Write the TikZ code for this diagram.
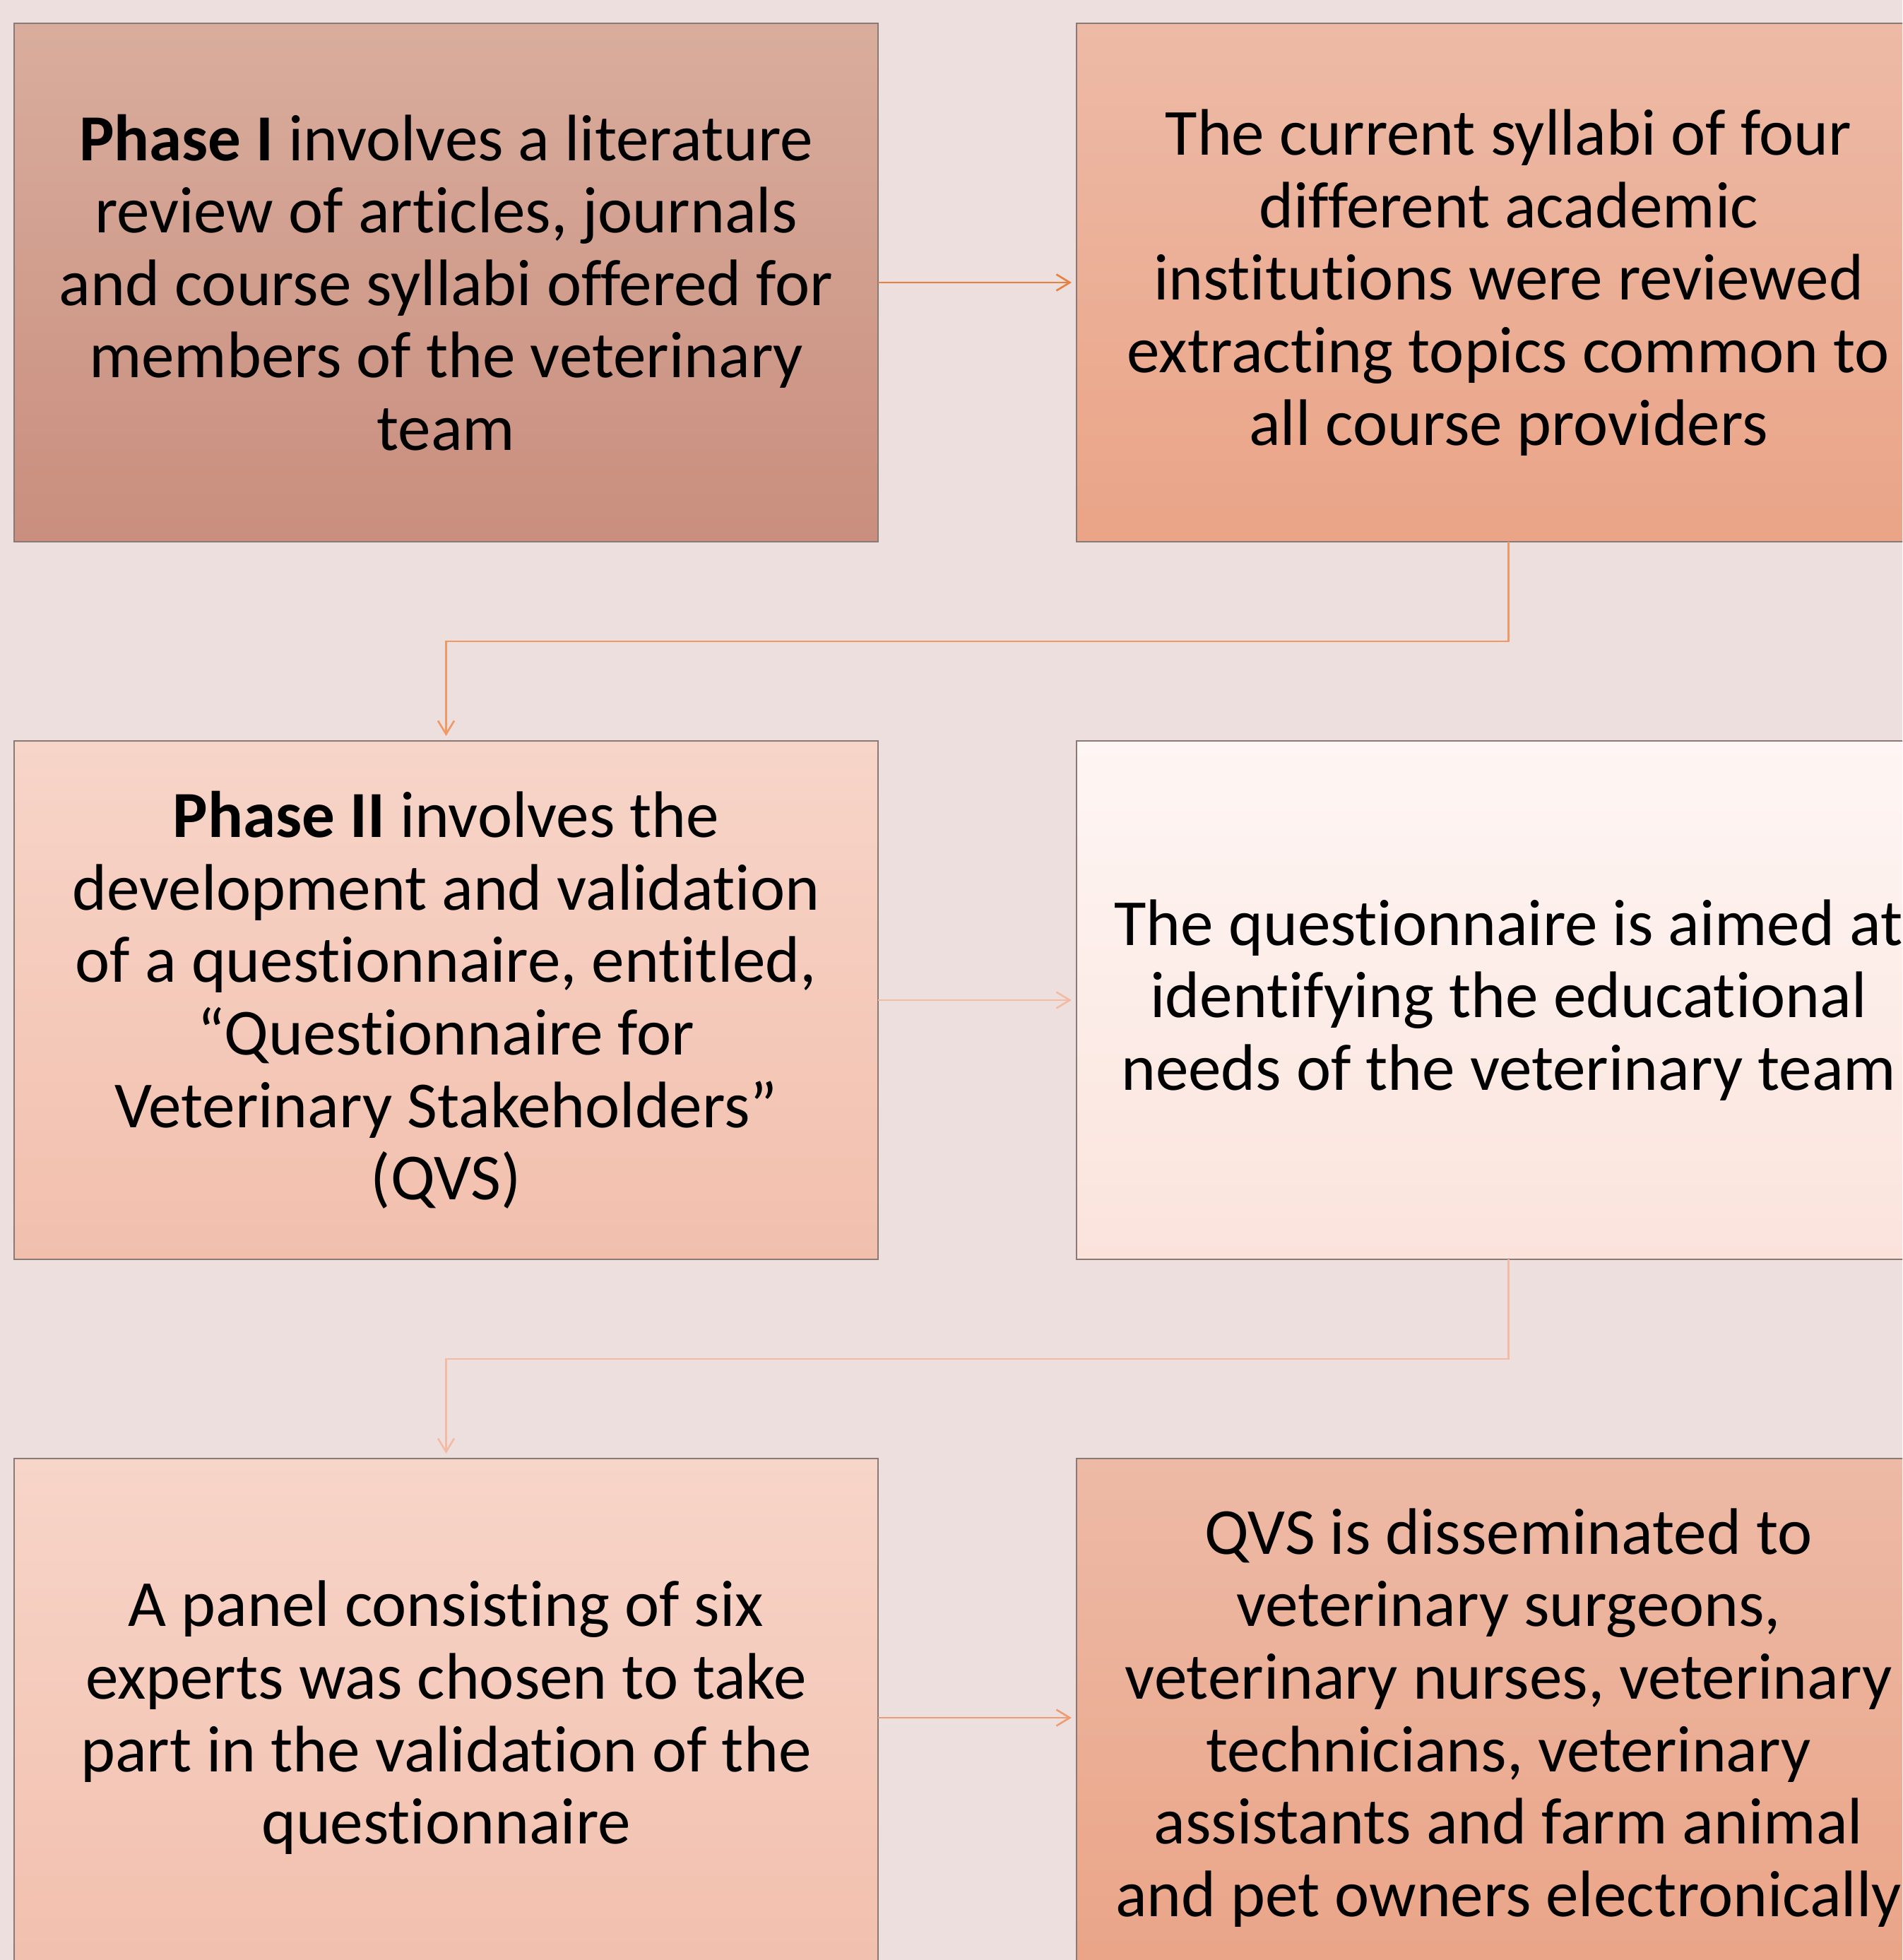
\documentclass[tikz,border=0pt]{standalone}
\usepackage{fontspec}
\setmainfont{Carlito}[Ligatures=NoCommon]
\usetikzlibrary{arrows.meta, positioning}
\definecolor{bgpink}{HTML}{EEDFDF}
\definecolor{edgegray}{HTML}{8A7A76}
\definecolor{roseA}{HTML}{D9AD9D}
\definecolor{roseB}{HTML}{C98E7E}
\definecolor{salmonA}{HTML}{EDBAA6}
\definecolor{salmonB}{HTML}{EAA487}
\definecolor{peachA}{HTML}{F7D5C9}
\definecolor{peachB}{HTML}{F2BFAD}
\definecolor{blushA}{HTML}{FEF6F4}
\definecolor{blushB}{HTML}{FBE3DC}
\definecolor{arrowA}{HTML}{E8803F}
\definecolor{arrowB}{HTML}{EE9966}
\definecolor{arrowC}{HTML}{F4BBA4}
\definecolor{arrowD}{HTML}{EE9C72}

\begin{document}
\begin{tikzpicture}[
  >={Straight Barb[length=1.9mm, width=2.3mm]},
  stepbox/.style={draw=edgegray, line width=0.5pt, outer sep=0pt,
    minimum width=12.23cm, minimum height=7.34cm, align=center,
    font=\fontsize{26.5}{29.2}\selectfont, text=black},
  link/.style={->, line width=0.75pt, shorten >=2pt},
  node distance=2.82cm and 2.81cm,
]

% Background
\useasboundingbox (0,0) rectangle (26.93,-27.75);
\clip (0,0) rectangle (26.93,-27.75);
\fill[bgpink] (0,0) rectangle (26.93,-27.75);

% === Row 1 ===
\node[stepbox, top color=roseA, bottom color=roseB] (phaseone) at (6.315,-4.00)
  {\textbf{Phase I} involves a literature\\ review of articles, journals\\
   and course syllabi offered for\\ members of the veterinary\\ team};
\node[stepbox, top color=salmonA, bottom color=salmonB, right=of phaseone] (syllabi)
  {The current syllabi of four\\ different academic\\ institutions were reviewed\\
   extracting topics common to\\ all course providers};

% === Row 2 ===
\node[stepbox, top color=peachA, bottom color=peachB, below=of phaseone] (phasetwo)
  {\textbf{Phase II} involves the\\ development and validation\\
   of a questionnaire, entitled,\\ “Questionnaire for\\ Veterinary Stakeholders”\\ (QVS)};
\node[stepbox, top color=blushA, bottom color=blushB, right=of phasetwo] (aim)
  {The questionnaire is aimed at\\ identifying the educational\\ needs of the veterinary team};

% === Row 3 ===
\node[stepbox, top color=peachA, bottom color=peachB, below=of phasetwo] (panel)
  {A panel consisting of six\\ experts was chosen to take\\
   part in the validation of the\\ questionnaire};
\node[stepbox, top color=salmonA, bottom color=salmonB, right=of panel] (dissemination)
  {QVS is disseminated to\\ veterinary surgeons,\\ veterinary nurses, veterinary\\
   technicians, veterinary\\ assistants and farm animal\\ and pet owners electronically};

% === Connectors ===
\draw[link, arrowA] (phaseone) -- (syllabi);
\draw[link, arrowB] (syllabi.south) -- ++(0,-1.41) -| (phasetwo.north);
\draw[link, arrowC] (phasetwo) -- (aim);
\draw[link, arrowC] (aim.south) -- ++(0,-1.41) -| (panel.north);
\draw[link, arrowD] (panel) -- (dissemination);

\end{tikzpicture}
\end{document}
